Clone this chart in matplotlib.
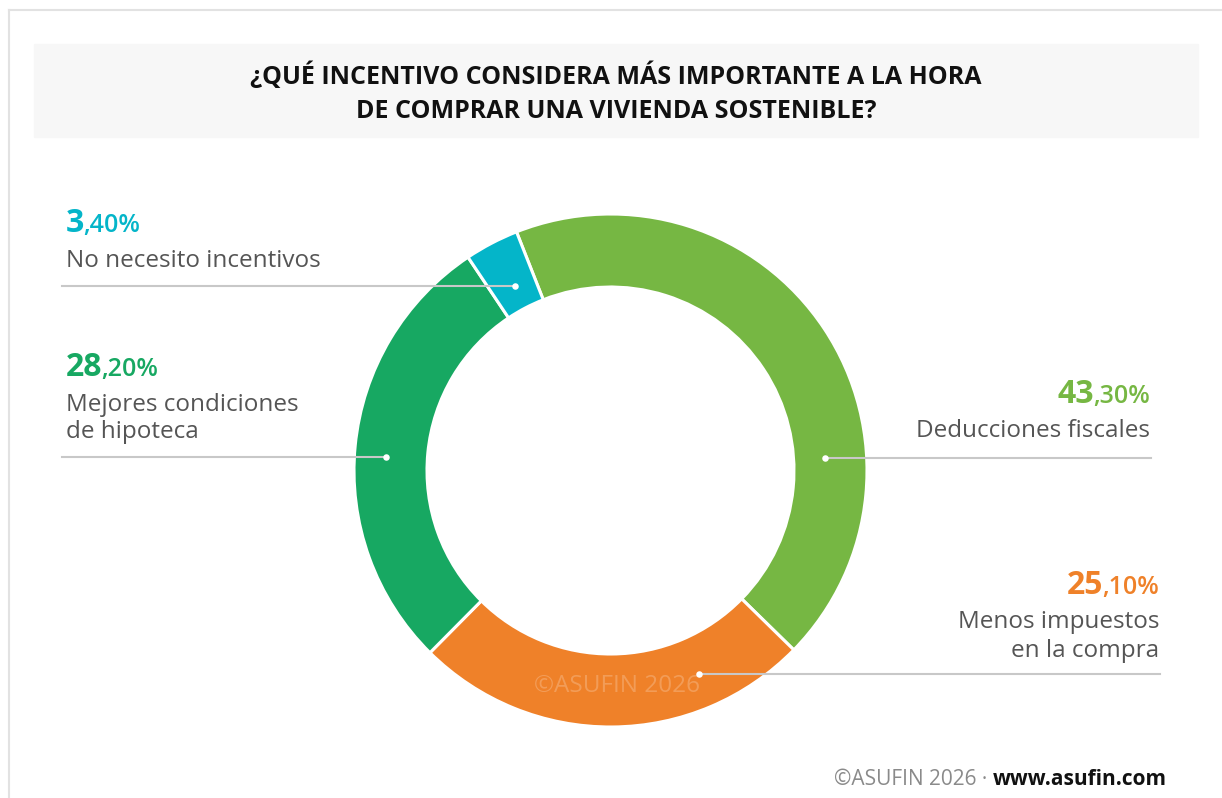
import matplotlib.pyplot as plt
from matplotlib.patches import Rectangle

plt.rcParams['font.family'] = ['Open Sans', 'DejaVu Sans']

# datos
categories = ['Deducciones fiscales', 'Menos impuestos\nen la compra',
              'Mejores condiciones\nde hipoteca', 'No necesito incentivos']
values = [43.3, 25.1, 28.2, 3.4]
colors = ['#76b743', '#ef8129', '#17a862', '#04b5c9']
title_lines = ['¿QUÉ INCENTIVO CONSIDERA MÁS IMPORTANTE A LA HORA',
               'DE COMPRAR UNA VIVIENDA SOSTENIBLE?']

W, H = 1222, 798
fig = plt.figure(figsize=(W / 100, H / 100), dpi=100)
ax = fig.add_axes([0, 0, 1, 1])

# donut (coordenadas en pixeles, y desde arriba -> H - y)
cx, cy, r_out, ring = 610.5, 470.5, 256.5, 73
ax.pie(values, colors=colors, startangle=111.5, counterclock=False,
       radius=r_out, center=(cx, H - cy),
       wedgeprops=dict(width=ring, edgecolor='white', linewidth=2.2))
ax.set_xlim(0, W)
ax.set_ylim(0, H)
ax.set_aspect('auto')
ax.axis('off')

renderer = fig.canvas.get_renderer()

# marco y cabecera
ax.plot([9, W], [H - 10, H - 10], color='#e2e2e2', lw=1.5)
ax.plot([9, 9], [0, H - 10], color='#e2e2e2', lw=1.5)
ax.add_patch(Rectangle((34, H - 137), 1164, 93, color='#f7f7f7', zorder=0))
ax.text(616, H - 84, title_lines[0], ha='center', va='baseline',
        fontsize=18, weight='bold', color='#111111')
ax.text(616, H - 118, title_lines[1], ha='center', va='baseline',
        fontsize=18, weight='bold', color='#111111')


def pct_label(x, y, v, color, ha):
    a, b = f'{v:.2f}'.replace('.', ',').split(',')
    b = ',' + b + '%'
    if ha == 'left':
        t = ax.text(x, H - y, a, fontsize=23, weight='bold', color=color,
                    ha='left', va='baseline')
        x1 = t.get_window_extent(renderer).x1
        ax.text(x1 - 1, H - y, b, fontsize=18, weight='semibold', color=color,
                ha='left', va='baseline')
    else:
        t = ax.text(x, H - y, b, fontsize=18, weight='semibold', color=color,
                    ha='right', va='baseline')
        x0 = t.get_window_extent(renderer).x0
        ax.text(x0 + 1, H - y, a, fontsize=23, weight='bold', color=color,
                ha='right', va='baseline')


# etiquetas: (x texto, ha, base %, bases de lineas, y linea, x linea, x punto)
layout = [
    (1150, 'right', 403, [437], 458, 1151, 825),
    (1159, 'right', 594, [628, 657], 674, 1160, 699),
    (66, 'left', 376, [411, 438], 457, 62, 386),
    (66, 'left', 232, [267], 286, 62, 515),
]

for cat, v, col, (x, ha, yp, ys, yl, xl, xd) in zip(categories, values, colors, layout):
    pct_label(x, yp, v, col, ha)
    for line, yy in zip(cat.split('\n'), ys):
        ax.text(x, H - yy, line, fontsize=17.5, color='#555555',
                ha=ha, va='baseline')
    ax.plot([xl, xd], [H - yl, H - yl], color='#c8c8c8', lw=1.5, zorder=3)
    ax.scatter([xd], [H - yl], s=22, color='white', zorder=4, linewidths=0)

# marca de agua
ax.text(617, H - 692, '©ASUFIN 2026', ha='center', va='baseline',
        fontsize=17.5, color='white', alpha=0.22)

# pie de pagina
t = ax.text(1167, H - 785, 'www.asufin.com', ha='right', va='baseline',
            fontsize=15, weight='bold', color='#111111')
x0 = t.get_window_extent(renderer).x0
ax.text(x0, H - 785, '©ASUFIN 2026 · ', ha='right', va='baseline',
        fontsize=15, color='#8a8a8a')

fig.savefig('out.png', dpi=100)
